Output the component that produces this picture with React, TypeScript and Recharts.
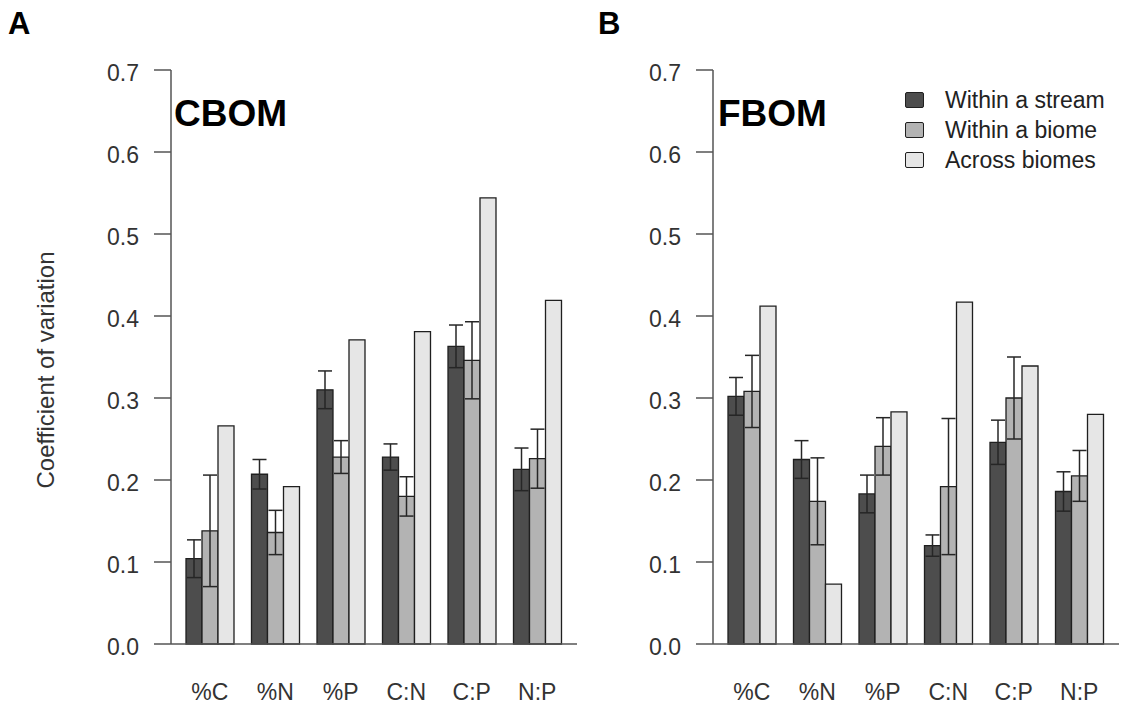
import { Bar, BarChart, ErrorBar, Legend, XAxis, YAxis } from 'recharts'

const FONT = '"Liberation Sans", Arial, sans-serif'
const TEXT = '#333333'
const AXIS = '#555555'
const OUTLINE = '#1f1f1f'

const CATEGORIES = ['%C', '%N', '%P', 'C:N', 'C:P', 'N:P']
const Y_TICKS = [0, 0.1, 0.2, 0.3, 0.4, 0.5, 0.6, 0.7]

// coarse benthic organic matter
const CBOM_STREAM = [0.104, 0.207, 0.31, 0.228, 0.363, 0.213]
const CBOM_STREAM_SE = [0.023, 0.018, 0.023, 0.016, 0.026, 0.026]
const CBOM_BIOME = [0.138, 0.136, 0.228, 0.18, 0.346, 0.226]
const CBOM_BIOME_SE = [0.068, 0.027, 0.02, 0.024, 0.047, 0.036]
const CBOM_ACROSS = [0.266, 0.192, 0.371, 0.381, 0.544, 0.419]

// fine benthic organic matter
const FBOM_STREAM = [0.302, 0.225, 0.183, 0.12, 0.246, 0.186]
const FBOM_STREAM_SE = [0.023, 0.023, 0.023, 0.013, 0.027, 0.024]
const FBOM_BIOME = [0.308, 0.174, 0.241, 0.192, 0.3, 0.205]
const FBOM_BIOME_SE = [0.044, 0.053, 0.035, 0.083, 0.05, 0.031]
const FBOM_ACROSS = [0.412, 0.073, 0.283, 0.417, 0.339, 0.28]

const SERIES = [
  { key: 'stream', err: 'streamErr', name: 'Within a stream', fill: '#4d4d4d' },
  { key: 'biome', err: 'biomeErr', name: 'Within a biome', fill: '#b3b3b3' },
  { key: 'across', err: null, name: 'Across biomes', fill: '#e6e6e6' },
]
const SERIES_ORDER = SERIES.map((s) => s.name)

type Row = {
  label: string
  stream: number
  streamErr: number
  biome: number
  biomeErr: number
  across: number
}

function buildRows(
  stream: number[],
  streamErr: number[],
  biome: number[],
  biomeErr: number[],
  across: number[],
): Row[] {
  return CATEGORIES.map((label, i) => ({
    label,
    stream: stream[i],
    streamErr: streamErr[i],
    biome: biome[i],
    biomeErr: biomeErr[i],
    across: across[i],
  }))
}

const cbomRows = buildRows(CBOM_STREAM, CBOM_STREAM_SE, CBOM_BIOME, CBOM_BIOME_SE, CBOM_ACROSS)
const fbomRows = buildRows(FBOM_STREAM, FBOM_STREAM_SE, FBOM_BIOME, FBOM_BIOME_SE, FBOM_ACROSS)

function YTick({ x, y, payload }: any) {
  return (
    <text x={x} y={y + 3} dy="0.355em" textAnchor="end" fill={TEXT} fontSize={23} fontFamily={FONT}>
      {Number(payload.value).toFixed(1)}
    </text>
  )
}

function LegendBox({ payload }: any) {
  // keep the series order instead of the legend's default alphabetical sort
  const items = [...(payload ?? [])].sort(
    (a: any, b: any) => SERIES_ORDER.indexOf(a.value) - SERIES_ORDER.indexOf(b.value),
  )
  return (
    <div style={{ fontFamily: FONT, fontSize: 23, color: '#222' }}>
      {items.map((entry: any) => (
        <div key={entry.value} style={{ display: 'flex', alignItems: 'center', height: 30 }}>
          <span
            style={{
              display: 'inline-block',
              width: 17,
              height: 14,
              background: entry.color,
              border: `1.5px solid ${OUTLINE}`,
              borderRadius: 2,
              marginRight: 21,
            }}
          />
          {entry.value}
        </div>
      ))}
    </div>
  )
}

type PanelProps = {
  rows: Row[]
  left: number
  letter: string
  letterX: number
  title: string
  titleX: number
  yLabel?: boolean
  legend?: boolean
}

function Panel({ rows, left, letter, letterX, title, titleX, yLabel, legend }: PanelProps) {
  return (
    <div style={{ position: 'absolute', left, top: 0 }}>
      <BarChart
        width={583}
        height={711}
        data={rows}
        margin={{ top: 70, right: 6, bottom: 0, left: 0 }}
        barGap={0}
        barSize={16}
        style={{ fontFamily: FONT }}
      >
        <text x={letterX} y={34} fontSize={31} fontWeight="bold" fill="#000" fontFamily={FONT}>
          {letter}
        </text>
        <text x={titleX} y={126} fontSize={37} fontWeight="bold" fill="#000" fontFamily={FONT}>
          {title}
        </text>
        {yLabel ? (
          <text
            x={54}
            y={370}
            transform="rotate(-90 54 370)"
            textAnchor="middle"
            fontSize={24}
            fill={TEXT}
            fontFamily={FONT}
          >
            Coefficient of variation
          </text>
        ) : null}
        <XAxis
          dataKey="label"
          padding={{ left: 6, right: 7 }}
          height={67}
          interval={0}
          tickLine={false}
          tickSize={0}
          tickMargin={40}
          axisLine={{ stroke: AXIS, strokeWidth: 1.5 }}
          tick={{ fill: TEXT, fontSize: 23, fontFamily: FONT }}
        />
        <YAxis
          type="number"
          domain={[0, 0.7]}
          ticks={Y_TICKS}
          interval={0}
          width={171}
          tickSize={17}
          tickMargin={15}
          axisLine={{ stroke: AXIS, strokeWidth: 1.5 }}
          tickLine={{ stroke: AXIS, strokeWidth: 1.5 }}
          tick={YTick}
        />
        {legend ? (
          <Legend
            layout="vertical"
            align="center"
            verticalAlign="middle"
            content={LegendBox}
            wrapperStyle={{ left: 363, top: 85, width: 220 }}
          />
        ) : null}
        {SERIES.map((s) => (
          <Bar
            key={s.key}
            dataKey={s.key}
            name={s.name}
            fill={s.fill}
            stroke={OUTLINE}
            strokeWidth={1.3}
            isAnimationActive={false}
          >
            {s.err ? (
              <ErrorBar dataKey={s.err} width={7} stroke="#262626" strokeWidth={1.5} isAnimationActive={false} />
            ) : null}
          </Bar>
        ))}
      </BarChart>
    </div>
  )
}

export default function App() {
  return (
    <div style={{ position: 'absolute', left: 0, top: 0, width: 1125, height: 711, background: '#fff' }}>
      <Panel rows={cbomRows} left={0} letter="A" letterX={8} title="CBOM" titleX={174} yLabel />
      <Panel rows={fbomRows} left={542} letter="B" letterX={56} title="FBOM" titleX={176} legend />
    </div>
  )
}
